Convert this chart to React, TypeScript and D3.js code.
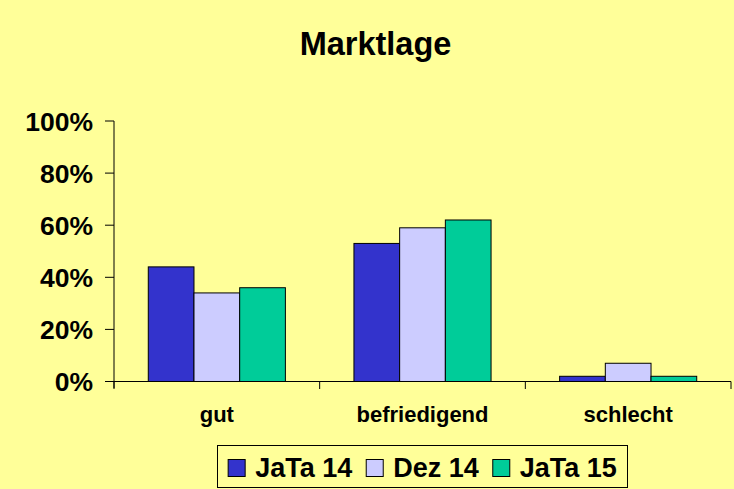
import React from "react";
import * as d3 from "d3";

const categories = ["gut", "befriedigend", "schlecht"];
const seriesNames = ["JaTa 14", "Dez 14", "JaTa 15"];
const jata14 = [44, 53, 2];
const dez14 = [34, 59, 7];
const jata15 = [36, 62, 2];
const yTicks = [0, 20, 40, 60, 80, 100];
const colors = ["#3333CC", "#CCCCFF", "#00CC99"];

const W = 734;
const H = 489;
const FONT = "'Liberation Sans', Arial, Helvetica, sans-serif";

function measure(text: string, size: number) {
  const c = document.createElement("canvas").getContext("2d");
  if (!c) return text.length * size * 0.55;
  c.font = `bold ${size}px ${FONT}`;
  return c.measureText(text).width;
}

export default function App() {
  const series = [jata14, dez14, jata15];
  const x0 = d3.scaleBand<string>().domain(categories).range([114, 731]).padding(0);
  const x1 = d3
    .scaleBand<string>()
    .domain(seriesNames)
    .range([0, x0.bandwidth()])
    .paddingInner(0)
    .paddingOuter(0.75);
  const y = d3.scaleLinear().domain([0, 100]).range([381.5, 121]);

  const legendSize = 27;
  const markerSize = 17;
  const markerGap = 10;
  const itemGap = 14;
  const widths = seriesNames.map((s) => markerSize + markerGap + measure(s, legendSize));
  const total = d3.sum(widths) + itemGap * (seriesNames.length - 1);
  const legendCenter = 422.5;
  let cursor = legendCenter - total / 2;
  const legendItems = seriesNames.map((s, i) => {
    const xStart = cursor;
    cursor += widths[i] + itemGap;
    return { s, xStart, color: colors[i] };
  });

  const xTickPositions = [...categories.map((c) => x0(c) as number), 731];

  return (
    <svg
      width={W}
      height={H}
      style={{ position: "fixed", left: 0, top: 0 }}
      fontFamily={FONT}
    >
      <rect x={0} y={0} width={W} height={H} fill="#FFFF99" />
      <text x={375.5} y={55} textAnchor="middle" fontSize={32.5} fontWeight="bold" fill="#000">
        Marktlage
      </text>

      {/* bars */}
      {categories.map((c, ci) => (
        <g key={c} transform={`translate(${x0(c)},0)`}>
          {series.map((vals, si) => (
            <rect
              key={si}
              x={x1(seriesNames[si])}
              y={y(vals[ci])}
              width={x1.bandwidth()}
              height={y(0) - y(vals[ci])}
              fill={colors[si]}
              stroke="#000"
              strokeWidth={1}
            />
          ))}
        </g>
      ))}

      {/* y axis */}
      <line x1={114} x2={114} y1={y(100)} y2={388} stroke="#000" strokeWidth={1} />
      {yTicks.map((t) => (
        <g key={t}>
          <line x1={105} x2={114} y1={y(t)} y2={y(t)} stroke="#000" strokeWidth={1} />
          <text
            x={93}
            y={y(t)}
            dy="0.36em"
            textAnchor="end"
            fontSize={26.5}
            fontWeight="bold"
            fill="#000"
          >
            {t}%
          </text>
        </g>
      ))}

      {/* x axis */}
      <line x1={105} x2={731} y1={y(0)} y2={y(0)} stroke="#000" strokeWidth={1} />
      {xTickPositions.map((p, i) => (
        <line key={i} x1={p} x2={p} y1={y(0)} y2={389} stroke="#000" strokeWidth={1} />
      ))}
      {categories.map((c) => (
        <text
          key={c}
          x={(x0(c) as number) + x0.bandwidth() / 2}
          y={422}
          textAnchor="middle"
          fontSize={22}
          fontWeight="bold"
          fill="#000"
        >
          {c}
        </text>
      ))}

      {/* legend */}
      <rect x={217.5} y={445.5} width={410} height={42} fill="#FFFF99" stroke="#000" strokeWidth={1} />
      {legendItems.map((it) => (
        <g key={it.s}>
          <rect
            x={it.xStart}
            y={459.5}
            width={markerSize}
            height={markerSize}
            fill={it.color}
            stroke="#000"
            strokeWidth={1}
          />
          <text
            x={it.xStart + markerSize + markerGap}
            y={477}
            fontSize={legendSize}
            fontWeight="bold"
            fill="#000"
          >
            {it.s}
          </text>
        </g>
      ))}
    </svg>
  );
}
